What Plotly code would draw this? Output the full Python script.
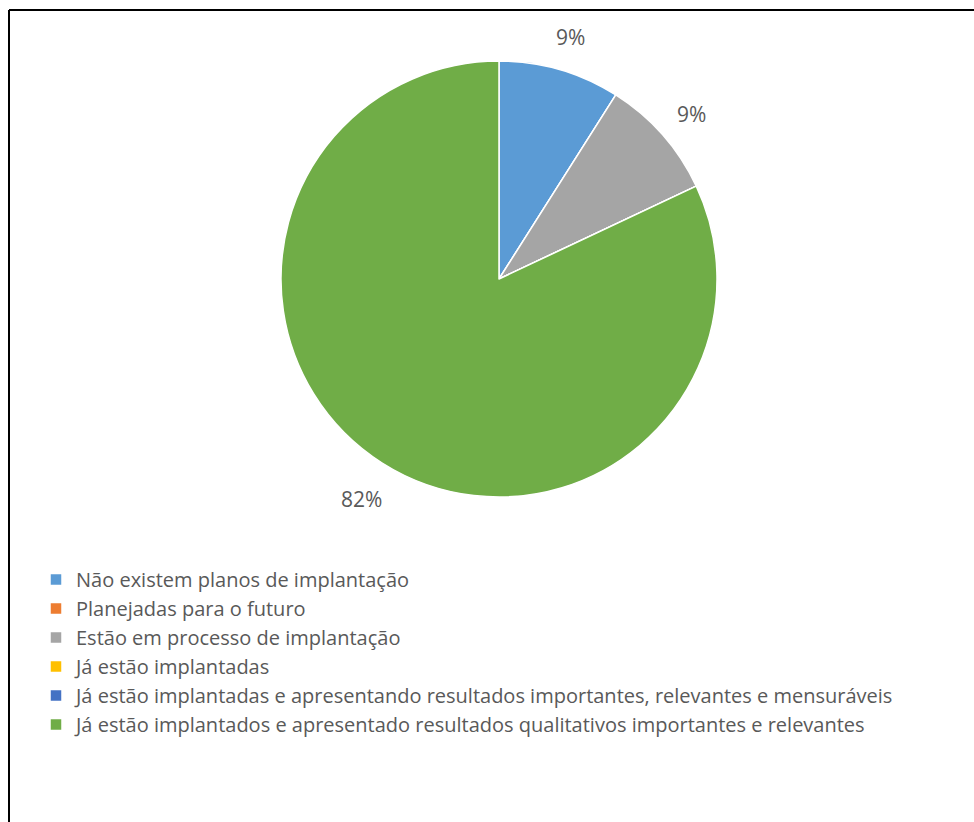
import math
import plotly.graph_objects as go

W, H = 974, 822

categories = [
    "Não existem planos de implantação",
    "Planejadas para o futuro",
    "Estão em processo de implantação",
    "Já estão implantadas",
    "Já estão implantadas e apresentando resultados importantes, relevantes e mensuráveis",
    "Já estão implantados e apresentado resultados qualitativos importantes e relevantes",
]
values = [9, 0, 9, 0, 0, 82]
colors = ["#5B9BD5", "#ED7D31", "#A5A5A5", "#FFC000", "#4472C4", "#70AD47"]

TEXT = "#595959"
FONT = "Open Sans"

# pie geometry in pixels
cx, cy, r = 499, 279, 218
label_r = r + 38

fig = go.Figure(
    go.Pie(
        labels=categories,
        values=values,
        textinfo="none",
        marker=dict(colors=colors, line=dict(color="white", width=1.5)),
        sort=False,
        direction="clockwise",
        rotation=0,
        automargin=False,
        hoverinfo="label+percent",
        domain=dict(
            x=[(cx - r) / W, (cx + r) / W],
            y=[(H - cy - r) / H, (H - cy + r) / H],
        ),
    )
)

# percentage labels placed outside each slice along its mid angle
total = sum(values)
annotations = []
cum = 0
for v in values:
    if v:
        mid = (cum + v / 2) / total * 2 * math.pi  # clockwise from 12 o'clock
        px = cx + label_r * math.sin(mid)
        py = cy - label_r * math.cos(mid) + 4
        annotations.append(dict(
            x=px / W, y=(H - py) / H, xref="paper", yref="paper",
            text=f"{round(v / total * 100)}%", showarrow=False,
            font=dict(family=FONT, size=21, color=TEXT),
            xanchor="center", yanchor="middle",
        ))
    cum += v

fig.update_layout(
    width=W,
    height=H,
    margin=dict(l=0, r=0, t=0, b=0),
    paper_bgcolor="white",
    plot_bgcolor="white",
    font=dict(family=FONT, color=TEXT),
    annotations=annotations,
    legend=dict(
        x=36 / W,
        y=(H - 560) / H,
        xanchor="left",
        yanchor="top",
        orientation="v",
        font=dict(family=FONT, size=20, color=TEXT),
        bgcolor="rgba(0,0,0,0)",
        traceorder="normal",
    ),
    shapes=[
        dict(type="line", xref="paper", yref="paper",
             x0=9 / W, x1=1, y0=(H - 10) / H, y1=(H - 10) / H,
             line=dict(color="black", width=2)),
        dict(type="line", xref="paper", yref="paper",
             x0=9 / W, x1=9 / W, y0=0, y1=(H - 10) / H,
             line=dict(color="black", width=2)),
    ],
)

fig.write_html("out.html")
